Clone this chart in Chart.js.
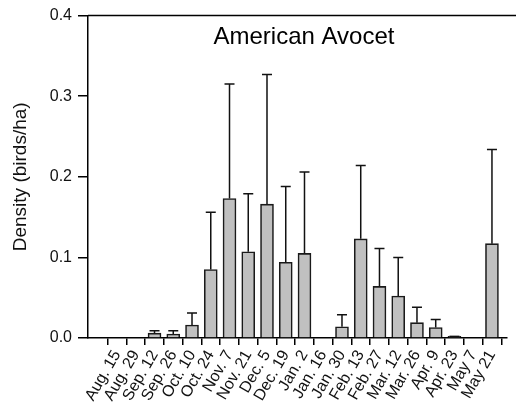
<!DOCTYPE html>
<html>
<head>
<meta charset="utf-8">
<script src="https://cdn.jsdelivr.net/npm/chart.js@4.4.0/dist/chart.umd.min.js"></script>
<style>
  html, body { margin: 0; padding: 0; background: #fff; }
  #wrap { width: 516px; height: 408px; position: relative; }
</style>
</head>
<body>
<div id="wrap"><canvas id="avocetChart"></canvas></div>
<script>
// Survey dates (x categories)
const surveyDates = ['Aug. 15', 'Aug. 29', 'Sep. 12', 'Sep. 26', 'Oct. 10', 'Oct. 24', 'Nov. 7',
    'Nov. 21', 'Dec. 5', 'Dec. 19', 'Jan. 2', 'Jan. 16', 'Jan. 30', 'Feb. 13', 'Feb. 27',
    'Mar. 12', 'Mar. 26', 'Apr. 9', 'Apr. 23', 'May 7', 'May 21'];

// Mean density (birds/ha)
const meanDensity = [0, 0, 0.006, 0.005, 0.016, 0.085, 0.173, 0.107, 0.166, 0.094, 0.105,
    0, 0.014, 0.123, 0.064, 0.052, 0.019, 0.013, 0.002, 0, 0.117];

// Top of the error bar (mean + error)
const upperError = [null, null, 0.009, 0.009, 0.031, 0.156, 0.315, 0.179, 0.327, 0.188, 0.206,
    null, 0.029, 0.214, 0.111, 0.100, 0.038, 0.023, 0.002, null, 0.234];

// Y axis ticks
const densityTicks = [0, 0.1, 0.2, 0.3, 0.4];

const fontFamily = "'Liberation Sans', Arial, sans-serif";

// Error bars, top frame line and inset title
const extrasPlugin = {
    id: 'extras',
    afterDatasetsDraw(chart) {
        const ctx = chart.ctx;
        const xs = chart.scales.x;
        const ys = chart.scales.y;
        const area = chart.chartArea;
        ctx.save();
        ctx.strokeStyle = '#111';
        ctx.lineWidth = 1.5;
        upperError.forEach((top, i) => {
            if (top === null) return;
            const x = xs.getPixelForValue(i);
            const yBar = ys.getPixelForValue(meanDensity[i]);
            const yTop = ys.getPixelForValue(top);
            ctx.beginPath();
            ctx.moveTo(x, yBar);
            ctx.lineTo(x, yTop);
            ctx.moveTo(x - 5, yTop);
            ctx.lineTo(x + 5, yTop);
            ctx.stroke();
        });

        // top frame line
        ctx.strokeStyle = '#000';
        ctx.beginPath();
        ctx.moveTo(area.left, area.top);
        ctx.lineTo(chart.width, area.top);
        ctx.stroke();

        // title inside plot
        ctx.fillStyle = '#000';
        ctx.font = '24px ' + fontFamily;
        ctx.textAlign = 'center';
        ctx.textBaseline = 'alphabetic';
        ctx.fillText('American Avocet', 304, 44);
        ctx.restore();
    }
};

const barData = meanDensity.map((v, i) => ({ x: i, y: v }));

new Chart(document.getElementById('avocetChart'), {
    type: 'bar',
    data: {
        datasets: [{
            data: barData,
            backgroundColor: '#c0c0c0',
            borderColor: '#1a1a1a',
            borderWidth: 1.6,
            barThickness: 13
        }]
    },
    options: {
        responsive: true,
        maintainAspectRatio: false,
        animation: false,
        layout: { padding: { left: 0, top: 15, right: 9, bottom: 0 } },
        plugins: {
            legend: { display: false },
            tooltip: { enabled: false }
        },
        scales: {
            x: {
                type: 'linear',
                min: -1.016,
                max: 20.27,
                afterBuildTicks: (scale) => {
                    scale.ticks = surveyDates.map((d, i) => ({ value: i }));
                },
                afterFit: (scale) => { scale.height = 70; },
                grid: {
                    display: true,
                    drawOnChartArea: false,
                    drawTicks: true,
                    tickLength: 7,
                    color: '#000',
                    lineWidth: 1.5
                },
                border: { display: true, color: '#000', width: 1.5 },
                ticks: {
                    autoSkip: false,
                    minRotation: 60,
                    maxRotation: 60,
                    padding: 2,
                    color: '#111',
                    font: { family: fontFamily, size: 16 },
                    callback: (v) => surveyDates[v]
                }
            },
            y: {
                min: 0,
                max: 0.4,
                afterBuildTicks: (scale) => {
                    scale.ticks = densityTicks.map(v => ({ value: v }));
                },
                afterFit: (scale) => { scale.width = 88; },
                grid: {
                    display: true,
                    drawOnChartArea: false,
                    drawTicks: true,
                    tickLength: 10,
                    color: '#000',
                    lineWidth: 1.5
                },
                border: { display: true, color: '#000', width: 1.5 },
                ticks: {
                    padding: 6,
                    color: '#111',
                    font: { family: fontFamily, size: 16 },
                    callback: (v) => v.toFixed(1)
                },
                title: {
                    display: true,
                    text: 'Density (birds/ha)',
                    color: '#111',
                    padding: { top: 9, bottom: 0 },
                    font: { family: fontFamily, size: 19 }
                }
            }
        }
    },
    plugins: [extrasPlugin]
});
</script>
</body>
</html>
